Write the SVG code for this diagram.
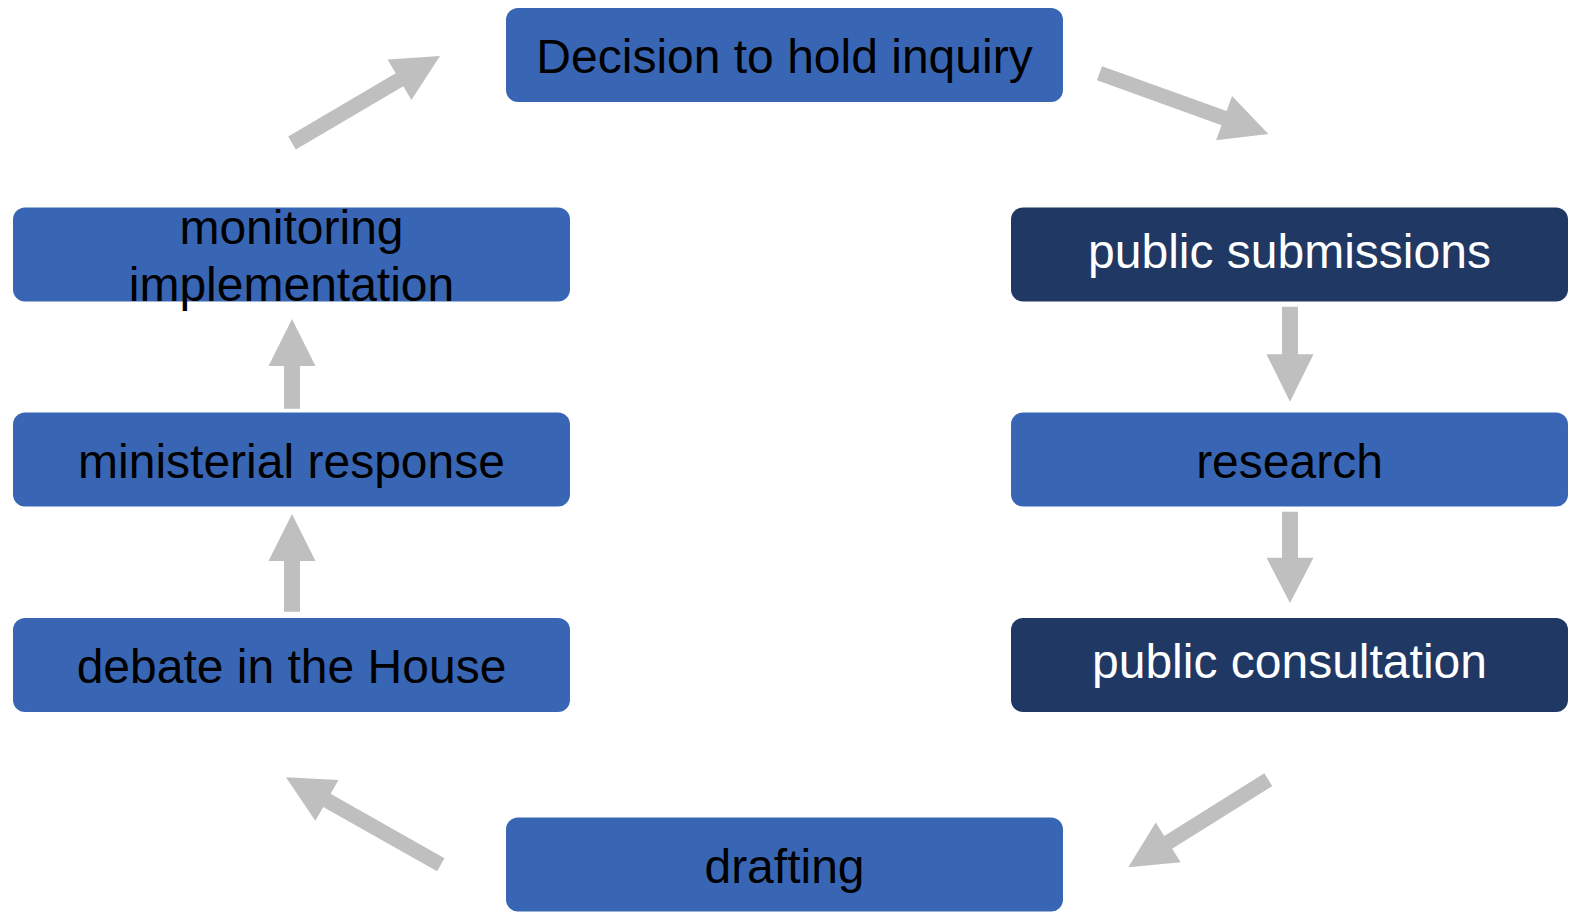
<svg xmlns="http://www.w3.org/2000/svg" width="1575" height="914" viewBox="0 0 1575 914">
<style>
.box{fill:#3966B4}
.dark{fill:#203864}
.lbl{font-family:"Liberation Sans",Arial,sans-serif;font-size:48px;text-anchor:middle;fill:#000}
.lblw{font-family:"Liberation Sans",Arial,sans-serif;font-size:48px;text-anchor:middle;fill:#fff}
.arr{fill:#BFBFBF}
</style>
<rect width="1575" height="914" fill="#fff"/>
<g id="connectors">
  <polygon class="arr" transform="translate(292,143) rotate(-30.45)" points="0,-7.5 124.7,-7.5 124.7,-23.5 171.7,0 124.7,23.5 124.7,7.5 0,7.5"/>
  <polygon class="arr" transform="translate(1099.5,73.3) rotate(19.78)" points="0,-7.5 132.4,-7.5 132.4,-23.5 179.4,0 132.4,23.5 132.4,7.5 0,7.5"/>
  <polygon class="arr" points="1282,306.7 1298,306.7 1298,354.3 1313.5,354.3 1290,401.7 1266.5,354.3 1282,354.3"/>
  <polygon class="arr" points="1282,511.7 1298,511.7 1298,557.7 1313.5,557.7 1290,603 1266.5,557.7 1282,557.7"/>
  <polygon class="arr" transform="translate(1268.3,779.7) rotate(147.97)" points="0,-7.5 118.1,-7.5 118.1,-23.5 165.1,0 118.1,23.5 118.1,7.5 0,7.5"/>
  <polygon class="arr" transform="translate(440.8,864.7) rotate(-150.55)" points="0,-7.5 130.8,-7.5 130.8,-23.5 177.8,0 130.8,23.5 130.8,7.5 0,7.5"/>
  <polygon class="arr" points="284,611.7 300,611.7 300,561 315.5,561 292,514 268.5,561 284,561"/>
  <polygon class="arr" points="284,408.7 300,408.7 300,366 315.5,366 292,319 268.5,366 284,366"/>
</g>
<g id="decision">
  <rect class="box" x="506" y="8" width="557" height="94" rx="12"/>
  <text class="lbl" x="784.5" y="73">Decision to hold inquiry</text>
</g>
<g id="public-submissions">
  <rect class="dark" x="1011" y="207.5" width="557" height="94" rx="12"/>
  <text class="lblw" x="1289.5" y="267.5">public submissions</text>
</g>
<g id="research">
  <rect class="box" x="1011" y="412.5" width="557" height="94" rx="12"/>
  <text class="lbl" x="1289.5" y="477.5">research</text>
</g>
<g id="public-consultation">
  <rect class="dark" x="1011" y="618" width="557" height="94" rx="12"/>
  <text class="lblw" x="1289.5" y="677.5">public consultation</text>
</g>
<g id="drafting">
  <rect class="box" x="506" y="817.5" width="557" height="94" rx="12"/>
  <text class="lbl" x="784.5" y="882.5">drafting</text>
</g>
<g id="debate">
  <rect class="box" x="13" y="618" width="557" height="94" rx="12"/>
  <text class="lbl" x="291.5" y="683">debate in the House</text>
</g>
<g id="ministerial-response">
  <rect class="box" x="13" y="412.5" width="557" height="94" rx="12"/>
  <text class="lbl" x="291.5" y="477.5">ministerial response</text>
</g>
<g id="monitoring">
  <rect class="box" x="13" y="207.5" width="557" height="94" rx="12"/>
  <text class="lbl" x="291.5" y="244">monitoring</text>
  <text class="lbl" x="291.5" y="301">implementation</text>
</g>
</svg>
